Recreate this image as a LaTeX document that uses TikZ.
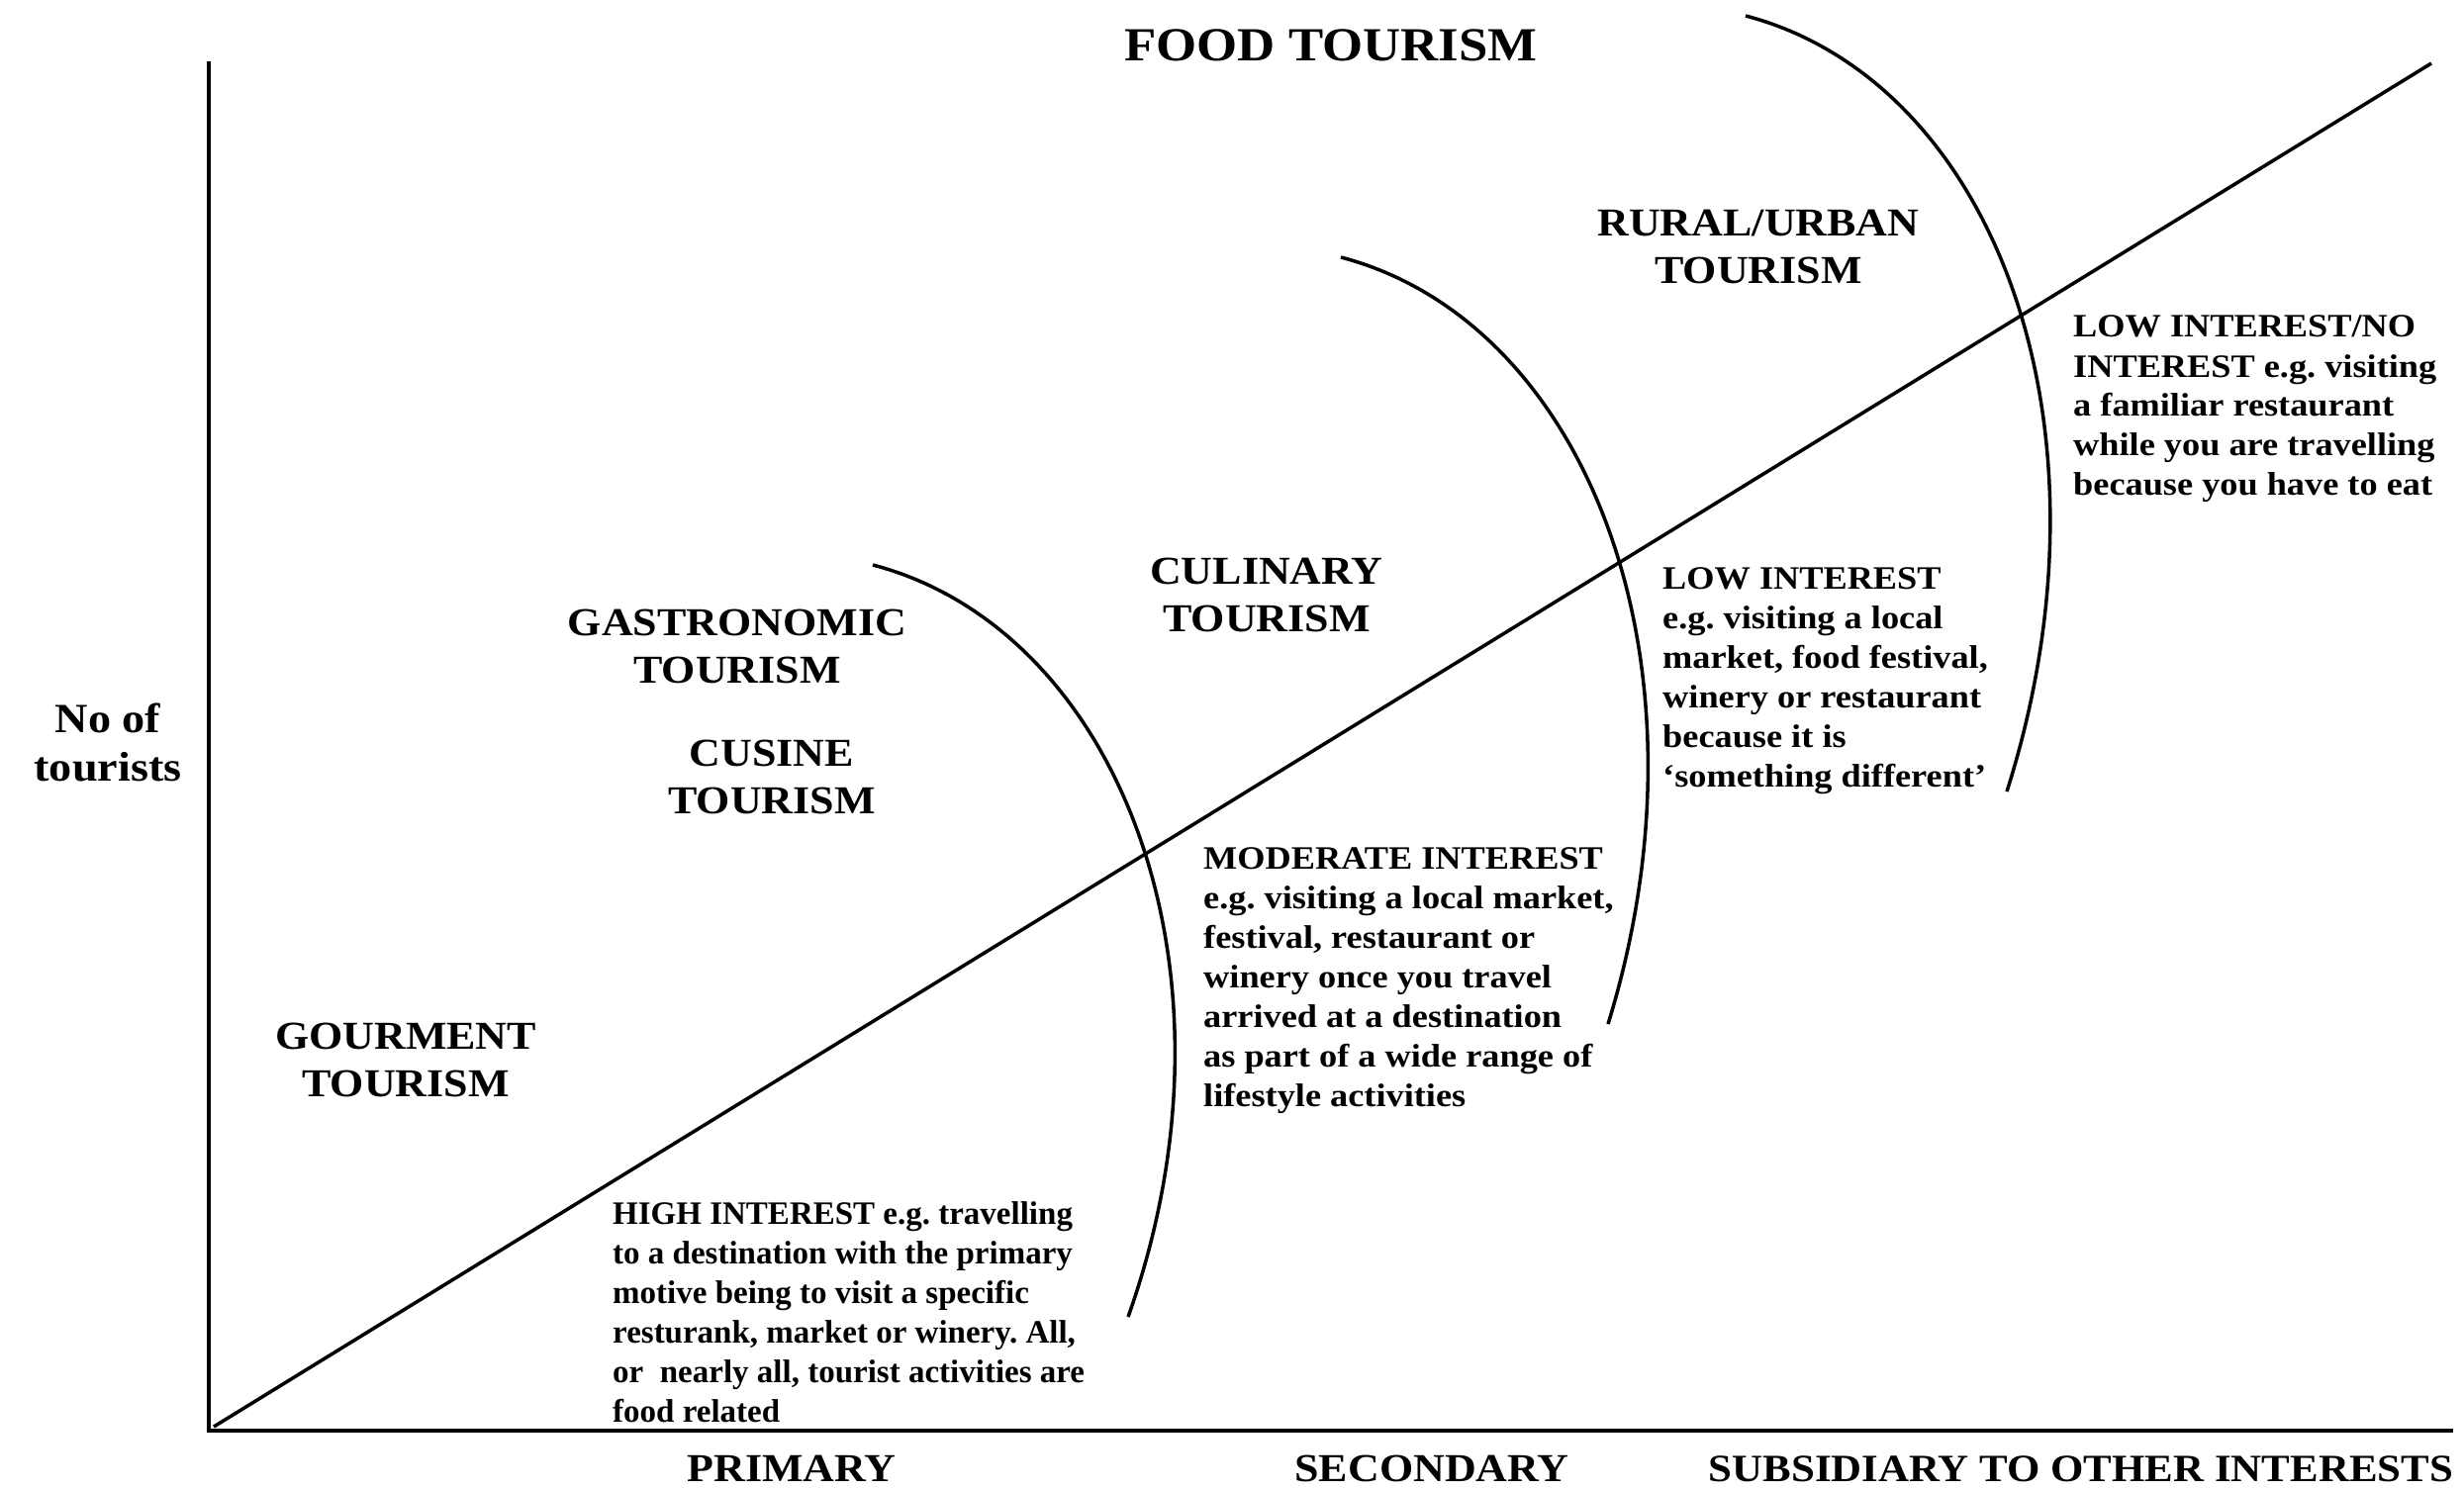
\documentclass[tikz,border=0pt]{standalone}
\usepackage{fontspec}
\setmainfont{Liberation Serif}[FakeStretch=1.1]
\newfontfamily\narrowserif{Liberation Serif}
\newcommand{\blockl}[1]{\begin{tabular}[t]{@{}l@{}}#1\end{tabular}}
\newcommand{\blockc}[1]{\begin{tabular}[t]{@{}c@{}}#1\end{tabular}}
\frenchspacing
\begin{document}
\begin{tikzpicture}[x=1pt,y=-1pt,
  axisline/.style={line width=4.5pt, line cap=rect},
  mainline/.style={line width=3.5pt},
  bodytxt/.style={anchor=base west, inner sep=0pt, font=\bfseries\fontsize{33}{40}\selectfont},
  cattxt/.style={anchor=base, inner sep=0pt, font=\bfseries\fontsize{40}{48}\selectfont},
  titletxt/.style={anchor=base, inner sep=0pt, font=\bfseries\fontsize{48}{56}\selectfont}]
\useasboundingbox (0,0) rectangle (2490,1506);
% axes
\coordinate (O) at (211,1446);
\coordinate (Ytop) at (211,64);
\coordinate (Xend) at (2477,1446);
\coordinate (Dstart) at (216,1442);
\coordinate (Dend) at (2457,64);
\draw[axisline] (Ytop) -- (O) -- (Xend);
\draw[mainline] (Dstart) -- (Dend);
% curves
\coordinate (C1s) at (882,571);
\coordinate (C1e) at (1140,1331);
\coordinate (C2s) at (1355,260);
\coordinate (C2e) at (1625,1035);
\coordinate (C3s) at (1764,16);
\coordinate (C3e) at (2028,800);
\draw[mainline] (C1s) .. controls (1130,636) and (1265,980) .. (C1e);
\draw[mainline] (C2s) .. controls (1603,325) and (1738,669) .. (C2e);
\draw[mainline] (C3s) .. controls (2012,81) and (2147,425) .. (C3e);
% title
\node[titletxt] (title) at (1345,62) {FOOD TOURISM};
% categories
\node[cattxt] (rural) at (1777,239) {\blockc{RURAL/URBAN\\TOURISM}};
\node[cattxt] (culinary) at (1280,590) {\blockc{CULINARY\\TOURISM}};
\node[cattxt] (gastro) at (745,642) {\blockc{GASTRONOMIC\\TOURISM}};
\node[cattxt] (cusine) at (780,774) {\blockc{CUSINE\\TOURISM}};
\node[cattxt] (gourment) at (410,1060) {\blockc{GOURMENT\\TOURISM}};
\node[cattxt, font=\bfseries\fontsize{42}{49}\selectfont] (noof) at (109,740) {\blockc{No of\\tourists}};
% axis labels
\node[cattxt] (primary) at (800,1497) {PRIMARY};
\node[cattxt] (secondary) at (1447,1497) {SECONDARY};
\node[cattxt, font=\bfseries\fontsize{39}{48}\selectfont] (subsidiary) at (2103,1497) {SUBSIDIARY TO OTHER INTERESTS};
% descriptions
\node[bodytxt, font=\narrowserif\bfseries\fontsize{33}{40}\selectfont] (high) at (619,1237) {\blockl{HIGH INTEREST e.g. travelling\\to a destination with the primary\\motive being to visit a specific\\resturank, market or winery. All,\\or\ \ nearly all, tourist activities are\\food related}};
\node[bodytxt] (moderate) at (1216,878) {\blockl{MODERATE INTEREST\\e.g. visiting a local market,\\festival, restaurant or\\winery once you travel\\arrived at a destination\\as part of a wide range of\\lifestyle activities}};
\node[bodytxt] (low) at (1680,595) {\blockl{LOW INTEREST\\e.g. visiting a local\\market, food festival,\\winery or restaurant\\because it is\\‘something different’}};
\node[bodytxt] (lowno) at (2095,341) {\blockl{LOW INTEREST/NO\\INTEREST e.g. visiting\\a familiar restaurant\\while you are travelling\\because you have to eat}};
\end{tikzpicture}
\end{document}
